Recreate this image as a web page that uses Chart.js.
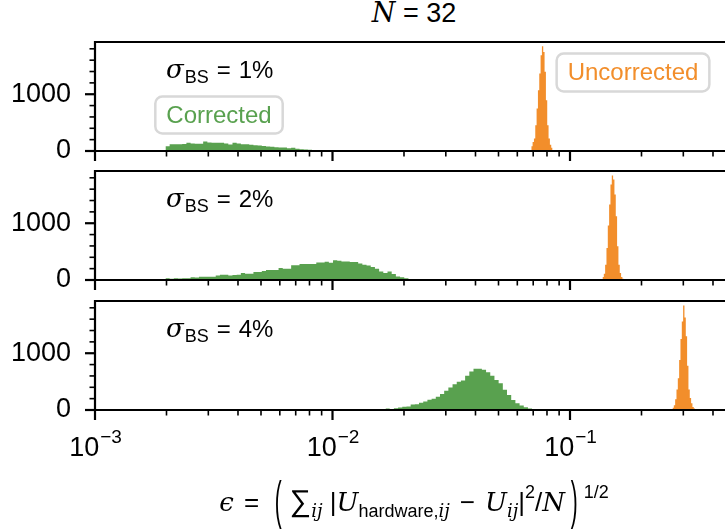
<!DOCTYPE html>
<html>
<head>
<meta charset="utf-8">
<script src="https://cdn.jsdelivr.net/npm/chart.js@4.4.0/dist/chart.umd.min.js"></script>
<style>
  html, body { margin: 0; padding: 0; background: #fff; overflow: hidden; }
  #fig { position: relative; width: 725px; height: 529px; overflow: hidden; font-family: 'Liberation Sans', sans-serif; color: #000; }
  canvas { position: absolute; left: 0; }
  #title { position: absolute; top: -3px; left: 264px; width: 300px; text-align: center; font-size: 27px; line-height: 32px; white-space: nowrap; }
  #xlabel { position: absolute; top: 478px; left: 0; width: 828px; text-align: center; font-size: 26px; line-height: 46px; white-space: nowrap; }
  #xlabel i { font-family: 'DejaVu Serif', serif; font-style: italic; }
  #xlabel .op { margin: 0 10px; }
  #xlabel .sum { font-size: 30px; margin-left: 2px; }
  #xlabel .sub { font-size: 18px; position: relative; top: 6px; }
  #xlabel .sup { font-size: 18px; position: relative; top: -13px; }
  #xlabel .big { display: inline-block; transform: scale(0.8, 2.0); font-weight: 300; position: relative; top: -2px; margin: 0 5px; }
</style>
</head>
<body>
<div id="fig">
  <div id="title"><i style="font-family:'DejaVu Serif',serif">N</i> = 32</div>
  <canvas id="p0" width="810" height="199" style="top:-3px"></canvas>
  <canvas id="p1" width="810" height="199" style="top:126px"></canvas>
  <canvas id="p2" width="810" height="273" style="top:256px"></canvas>
  <div id="xlabel"><i>ϵ</i><span class="op">=</span><span class="big">(</span><span class="sum">∑</span><span class="sub"><i>ij</i></span> |<i>U</i><span class="sub">hardware,<i>ij</i></span><span class="op">−</span><i>U</i><span class="sub"><i>ij</i></span>|<span class="sup">2</span>/<i>N</i><span class="big">)</span><span class="sup">1/2</span></div>
</div>
<script>
// log-spaced histogram bins: first edge and bin width in decades
const greenStart = [0.00198, 0.00198, 0.01672];
const greenStep = 0.01764;
const orangeStart = [0.0687, 0.1370, 0.2701];
const orangeStep = 0.0056;

const greenCounts1 = [85, 120, 120, 120, 125, 145, 130, 128, 128, 168, 150, 145, 145, 145, 133, 115,
  145, 130, 120, 120, 108, 102, 96, 90, 80, 74, 68, 62, 62, 50, 58, 38, 32, 28, 24, 18, 14, 10, 6];
const greenCounts2 = [30, 20, 32, 25, 32, 32, 50, 45, 56, 56, 56, 56, 80, 92, 92, 80, 86, 92, 122, 110,
  110, 140, 140, 158, 175, 175, 175, 210, 198, 198, 262, 262, 280, 280, 282, 282, 310, 310, 322, 305,
  350, 338, 328, 328, 316, 316, 292, 268, 256, 228, 198, 150, 122, 150, 104, 62, 50, 32, 18, 10];
const greenCounts3 = [25, 18, 32, 45, 56, 60, 95, 103, 127, 150, 180, 198, 232, 280, 338, 396, 455,
  496, 520, 602, 678, 725, 725, 710, 666, 602, 530, 472, 355, 266, 178, 120, 80, 48, 25];
const orangeCounts1 = [82, 159, 218, 453, 747, 1070, 1364, 1688, 1846, 1746, 1394, 894, 453, 218, 112, 59];
const orangeCounts2 = [53, 112, 270, 564, 958, 1329, 1682, 1840, 1770, 1505, 1123, 594, 270, 123, 53, 20];
const orangeCounts3 = [40, 85, 190, 360, 560, 880, 1250, 1560, 1840, 1630, 1300, 780, 360, 210, 120, 55, 25];

const sigmaLabels = ['1%', '2%', '4%'];
const yTicks = [0, 1000];
const yMinorStep = 200;
const xExponents = [-3, -2, -1, 0];

const GREEN = '#59a14f';
const ORANGE = '#f28e2b';
const FONT = "'Liberation Sans', sans-serif";

function hist(start, step, counts) {
  const pts = counts.map((c, i) => ({ x: start * Math.pow(10, i * step), y: c }));
  pts.push({ x: start * Math.pow(10, counts.length * step), y: 0 });
  return pts;
}

function roundBox(ctx, cx, cy, w, h, r) {
  ctx.beginPath();
  ctx.roundRect(cx - w / 2, cy - h / 2, w, h, r);
  ctx.fillStyle = '#fff';
  ctx.fill();
  ctx.lineWidth = 2.5;
  ctx.strokeStyle = '#d8d8d8';
  ctx.stroke();
}

const framePlugin = {
  id: 'frame',
  afterDraw(chart, args, opts) {
    const { ctx, chartArea: a, scales: { x, y } } = chart;
    ctx.save();
    ctx.strokeStyle = '#000';
    ctx.lineCap = 'butt';

    // spines: top, left, bottom (right one lies outside the picture)
    ctx.lineWidth = 2.2;
    ctx.beginPath();
    ctx.moveTo(a.left, a.bottom);
    ctx.lineTo(a.left, a.top);
    ctx.lineTo(a.right + 5, a.top);
    ctx.moveTo(a.left - 1.1, a.bottom);
    ctx.lineTo(a.right + 5, a.bottom);
    ctx.stroke();

    // x ticks
    for (let e = xExponents[0]; e <= xExponents[xExponents.length - 1]; e++) {
      const base = Math.pow(10, e);
      let px = x.getPixelForValue(base);
      ctx.lineWidth = 2.2;
      ctx.beginPath(); ctx.moveTo(px, a.bottom); ctx.lineTo(px, a.bottom + 10); ctx.stroke();
      for (let k = 2; k <= 9; k++) {
        px = x.getPixelForValue(k * base);
        ctx.lineWidth = 1.6;
        ctx.beginPath(); ctx.moveTo(px, a.bottom); ctx.lineTo(px, a.bottom + 5.5); ctx.stroke();
      }
    }
    // y ticks
    for (let v = 0; v <= y.max; v += yMinorStep) {
      const py = y.getPixelForValue(v);
      const major = yTicks.includes(v);
      ctx.lineWidth = major ? 2.2 : 1.6;
      ctx.beginPath(); ctx.moveTo(a.left, py); ctx.lineTo(a.left - (major ? 10 : 5.5), py); ctx.stroke();
    }

    ctx.fillStyle = '#000';
    ctx.textBaseline = 'alphabetic';
    ctx.textAlign = 'left';

    // x tick labels on the bottom panel
    if (opts.xLabels) {
      for (const e of xExponents) {
        const px = x.getPixelForValue(Math.pow(10, e));
        if (px > 740) continue;
        const exp = e < 0 ? '\u2212' + (-e) : String(e);
        ctx.font = '27px ' + FONT;
        const w1 = ctx.measureText('10').width;
        ctx.font = '19px ' + FONT;
        const w2 = ctx.measureText(exp).width;
        const x0 = px - (w1 + w2) / 2;
        ctx.font = '27px ' + FONT;
        ctx.fillText('10', x0, a.bottom + 46);
        ctx.font = '19px ' + FONT;
        ctx.fillText(exp, x0 + w1 + 1, a.bottom + 33);
      }
    }

    // sigma label
    const sx = a.left + 71, sy = a.top + 36;
    ctx.font = 'italic 26px "DejaVu Serif", serif';
    ctx.fillText('σ', sx, sy);
    let cx = sx + ctx.measureText('σ').width + 1;
    ctx.font = '18px ' + FONT;
    ctx.fillText('BS', cx, sy + 5);
    cx += ctx.measureText('BS').width + 8;
    ctx.font = '24px ' + FONT;
    ctx.fillText('=', cx, sy);
    cx += ctx.measureText('=').width + 8;
    ctx.fillText(opts.label, cx, sy);

    // legend-like boxes
    if (opts.legend) {
      ctx.font = '24px ' + FONT;
      ctx.textAlign = 'center';
      ctx.textBaseline = 'middle';
      let tw = ctx.measureText('Corrected').width;
      roundBox(ctx, a.left + 124, a.top + 73, tw + 22, 37, 7);
      ctx.fillStyle = GREEN;
      ctx.fillText('Corrected', a.left + 124, a.top + 74);
      tw = ctx.measureText('Uncorrected').width;
      roundBox(ctx, a.left + 538, a.top + 30.5, tw + 22, 38, 7);
      ctx.fillStyle = ORANGE;
      ctx.fillText('Uncorrected', a.left + 538, a.top + 31.5);
    }
    ctx.restore();
  }
};

const greenCounts = [greenCounts1, greenCounts2, greenCounts3];
const orangeCounts = [orangeCounts1, orangeCounts2, orangeCounts3];

function makePanel(i) {
  const canvas = document.getElementById('p' + i);
  const bottomPad = canvas.height - 45 - 109;
  new Chart(canvas, {
    type: 'line',
    data: {
      datasets: [
        { data: hist(greenStart[i], greenStep, greenCounts[i]), backgroundColor: GREEN },
        { data: hist(orangeStart[i], orangeStep, orangeCounts[i]), backgroundColor: ORANGE }
      ].map(d => Object.assign(d, {
        stepped: true, fill: 'origin', borderColor: 'rgba(0,0,0,0)', borderWidth: 1, pointRadius: 0
      }))
    },
    options: {
      responsive: false,
      animation: false,
      devicePixelRatio: 1,
      layout: { padding: { left: 0, right: 2.5, top: 45, bottom: bottomPad } },
      plugins: {
        legend: { display: false },
        tooltip: { enabled: false },
        frame: { label: sigmaLabels[i], legend: i === 0, xLabels: i === 2 }
      },
      scales: {
        x: { type: 'logarithmic', min: 1e-3, max: 1, display: false },
        y: {
          min: 0, max: 1920,
          afterFit: s => { s.width = 95; },
          afterBuildTicks: s => { s.ticks = yTicks.map(v => ({ value: v })); },
          grid: { display: false, drawTicks: false },
          border: { display: false },
          ticks: { padding: 24, color: '#000', font: { family: FONT, size: 27 }, callback: v => String(v) }
        }
      }
    },
    plugins: [framePlugin]
  });
}

[0, 1, 2].forEach(makePanel);
</script>
</body>
</html>
